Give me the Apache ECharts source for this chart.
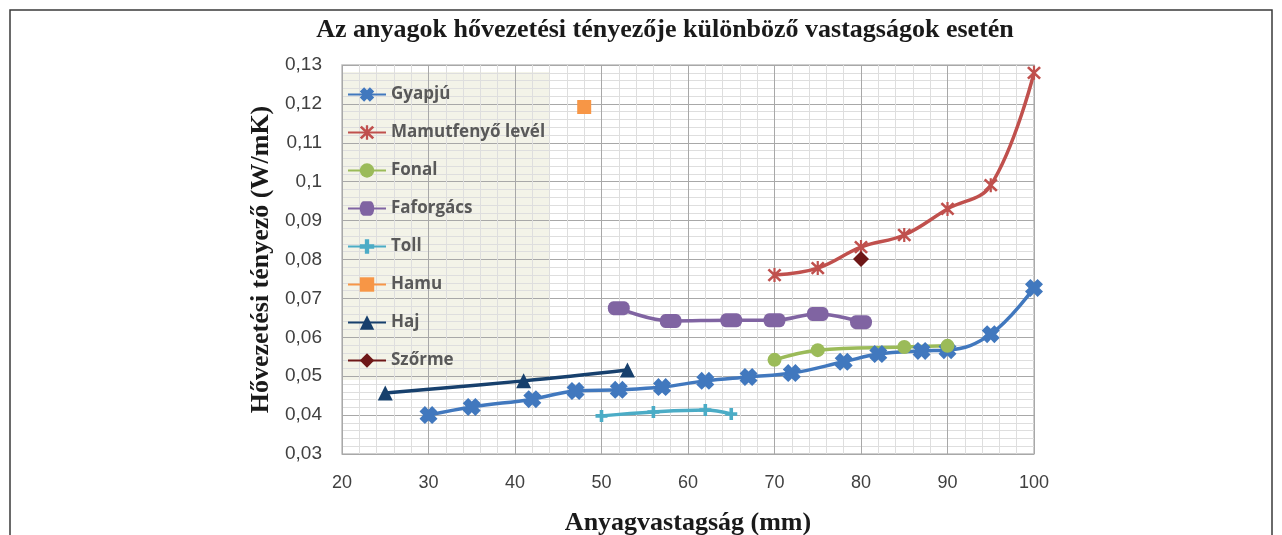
<!DOCTYPE html>
<head>
    <meta charset="utf-8"/>
    <style>
        html,body { height:100%; width:100%; margin:0; padding:0; background:#fff; }
    </style>
</head>
<body>

<div id="chart" style="width:1282px;height:535px;"></div>

<script src="https://cdn.jsdelivr.net/npm/echarts@6/dist/echarts.min.js"></script>
<script type="text/javascript">

// adatok (x: vastagság mm, y: hővezetési tényező W/mK)
var gyapjuX = [30, 35, 42, 47, 52, 57, 62, 67, 72, 78, 82, 87, 90, 95, 100];
var gyapjuY = [0.0400, 0.0421, 0.0441, 0.0462, 0.0465, 0.0472, 0.0488, 0.0498, 0.0508, 0.0537, 0.0557, 0.0565, 0.0567, 0.0608, 0.0727];

var mamutX = [70, 75, 80, 85, 90, 95, 100];
var mamutY = [0.0760, 0.0778, 0.0832, 0.0863, 0.0930, 0.0991, 0.1280];

var fonalX = [70, 75, 85, 90];
var fonalY = [0.0542, 0.0567, 0.0575, 0.0578];

var faforgacsX = [52, 58, 65, 70, 75, 80];
var faforgacsY = [0.0675, 0.0642, 0.0644, 0.0644, 0.0660, 0.0639];

var tollX = [50, 56, 62, 65];
var tollY = [0.0398, 0.0408, 0.0413, 0.0403];

var hamuX = [48];
var hamuY = [0.1192];

var hajX = [25, 41, 53];
var hajY = [0.0457, 0.0488, 0.0516];

var szormeX = [80];
var szormeY = [0.0801];

var xTicks = [20, 100, 10];      // min, max, lépték
var yTicks = [0.03, 0.13, 0.01];

// markerek
var symX = 'path://M0,3 L3,0 L5,2 L7,0 L10,3 L8,5 L10,7 L7,10 L5,8 L3,10 L0,7 L2,5 Z';
var symStar = 'path://M8.5,0 L11.5,0 L11.5,20 L8.5,20 Z M0.5,3 L3,0.5 L19.5,17 L17,19.5 Z M17,0.5 L19.5,3 L3,19.5 L0.5,17 Z';
var symPlus = 'path://M3.5,0 L6.5,0 L6.5,3.5 L10,3.5 L10,6.5 L6.5,6.5 L6.5,10 L3.5,10 L3.5,6.5 L0,6.5 L0,3.5 L3.5,3.5 Z';
var symPill = 'path://M5,0 L15,0 A5,5 0 0 1 15,10 L5,10 A5,5 0 0 1 5,0 Z';

function zip(xs, ys) {
    var out = [];
    for (var i = 0; i < xs.length; i++) out.push([xs[i], ys[i]]);
    return out;
}

function mkSeries(name, xs, ys, color, symbol, size) {
    return {
        name: name,
        type: 'line',
        data: zip(xs, ys),
        smooth: 0.4,
        color: color,
        symbol: symbol,
        symbolSize: size,
        showAllSymbol: true,
        lineStyle: { width: 3.5, color: color },
        itemStyle: { color: color },
        emphasis: { disabled: true }
    };
}

var myChart = echarts.init(document.getElementById('chart'));

var option = {
    animation: false,
    graphic: [
        { type: 'rect', z: -10, shape: { x: 10, y: 10, width: 1262, height: 600 },
          style: { fill: 'none', stroke: '#3a3a3a', lineWidth: 1.5 } },
        { type: 'rect', z: -5, shape: { x: 342, y: 72, width: 208, height: 308 },
          style: { fill: 'rgba(228,228,205,0.45)' } },
        { type: 'text', x: 665, y: 30,
          style: { text: 'Az anyagok hővezetési tényezője különböző vastagságok esetén',
                   textAlign: 'center', textVerticalAlign: 'middle',
                   font: 'bold 26px "Liberation Serif"', fill: '#1a1a1a' } }
    ],
    legend: {
        orient: 'vertical',
        left: 347,
        top: 86,
        padding: 0,
        itemWidth: 38,
        itemHeight: 18,
        itemGap: 21,
        textStyle: { color: '#595959', fontWeight: 'bold', fontSize: 17, fontFamily: 'Open Sans' },
        data: ['Gyapjú', 'Mamutfenyő levél', 'Fonal', 'Faforgács', 'Toll', 'Hamu', 'Haj', 'Szőrme']
    },
    grid: {
        left: 342,
        right: 248,
        top: 65,
        bottom: 81,
        outerBoundsMode: 'none',
        show: true,
        borderColor: '#bfbfbf',
        borderWidth: 1.5,
        backgroundColor: 'transparent'
    },
    xAxis: {
        type: 'value',
        min: xTicks[0],
        max: xTicks[1],
        interval: xTicks[2],
        name: 'Anyagvastagság (mm)',
        nameLocation: 'middle',
        nameGap: 56,
        nameTextStyle: { fontFamily: 'Liberation Serif', fontWeight: 'bold', fontSize: 26, color: '#1a1a1a' },
        axisLine: { show: false },
        axisTick: { show: false },
        axisLabel: { margin: 20, fontSize: 18, color: '#404040', fontFamily: 'Liberation Sans' },
        splitLine: { show: true, lineStyle: { color: '#a8a8a8', width: 1 } },
        minorTick: { show: false, splitNumber: 5 },
        minorSplitLine: { show: true, lineStyle: { color: '#dedede', width: 1 } }
    },
    yAxis: {
        type: 'value',
        min: yTicks[0],
        max: yTicks[1],
        interval: yTicks[2],
        name: 'Hővezetési tényező (W/mK)',
        nameLocation: 'middle',
        nameGap: 64,
        nameRotate: 90,
        nameTextStyle: { fontFamily: 'Liberation Serif', fontWeight: 'bold', fontSize: 26, color: '#1a1a1a' },
        axisLine: { show: false },
        axisTick: { show: false },
        axisLabel: {
            margin: 20, fontSize: 19, color: '#404040', fontFamily: 'Liberation Sans',
            formatter: function (v) { return String(parseFloat(v.toFixed(2))).replace('.', ','); }
        },
        splitLine: { show: true, lineStyle: { color: '#a8a8a8', width: 1 } },
        minorTick: { show: false, splitNumber: 5 },
        minorSplitLine: { show: true, lineStyle: { color: '#dedede', width: 1 } }
    },
    series: [
        mkSeries('Gyapjú', gyapjuX, gyapjuY, '#4178be', symX, 18),
        mkSeries('Mamutfenyő levél', mamutX, mamutY, '#c0504d', symStar, 14),
        mkSeries('Fonal', fonalX, fonalY, '#9bbb59', 'circle', 14),
        mkSeries('Faforgács', faforgacsX, faforgacsY, '#8064a2', symPill, [22, 14]),
        mkSeries('Toll', tollX, tollY, '#4bacc6', symPlus, 12),
        mkSeries('Hamu', hamuX, hamuY, '#f79646', 'rect', 14),
        mkSeries('Haj', hajX, hajY, '#17406d', 'triangle', 15),
        mkSeries('Szőrme', szormeX, szormeY, '#6e1717', 'diamond', 16)
    ]
};

myChart.setOption(option);

</script>
</body>
